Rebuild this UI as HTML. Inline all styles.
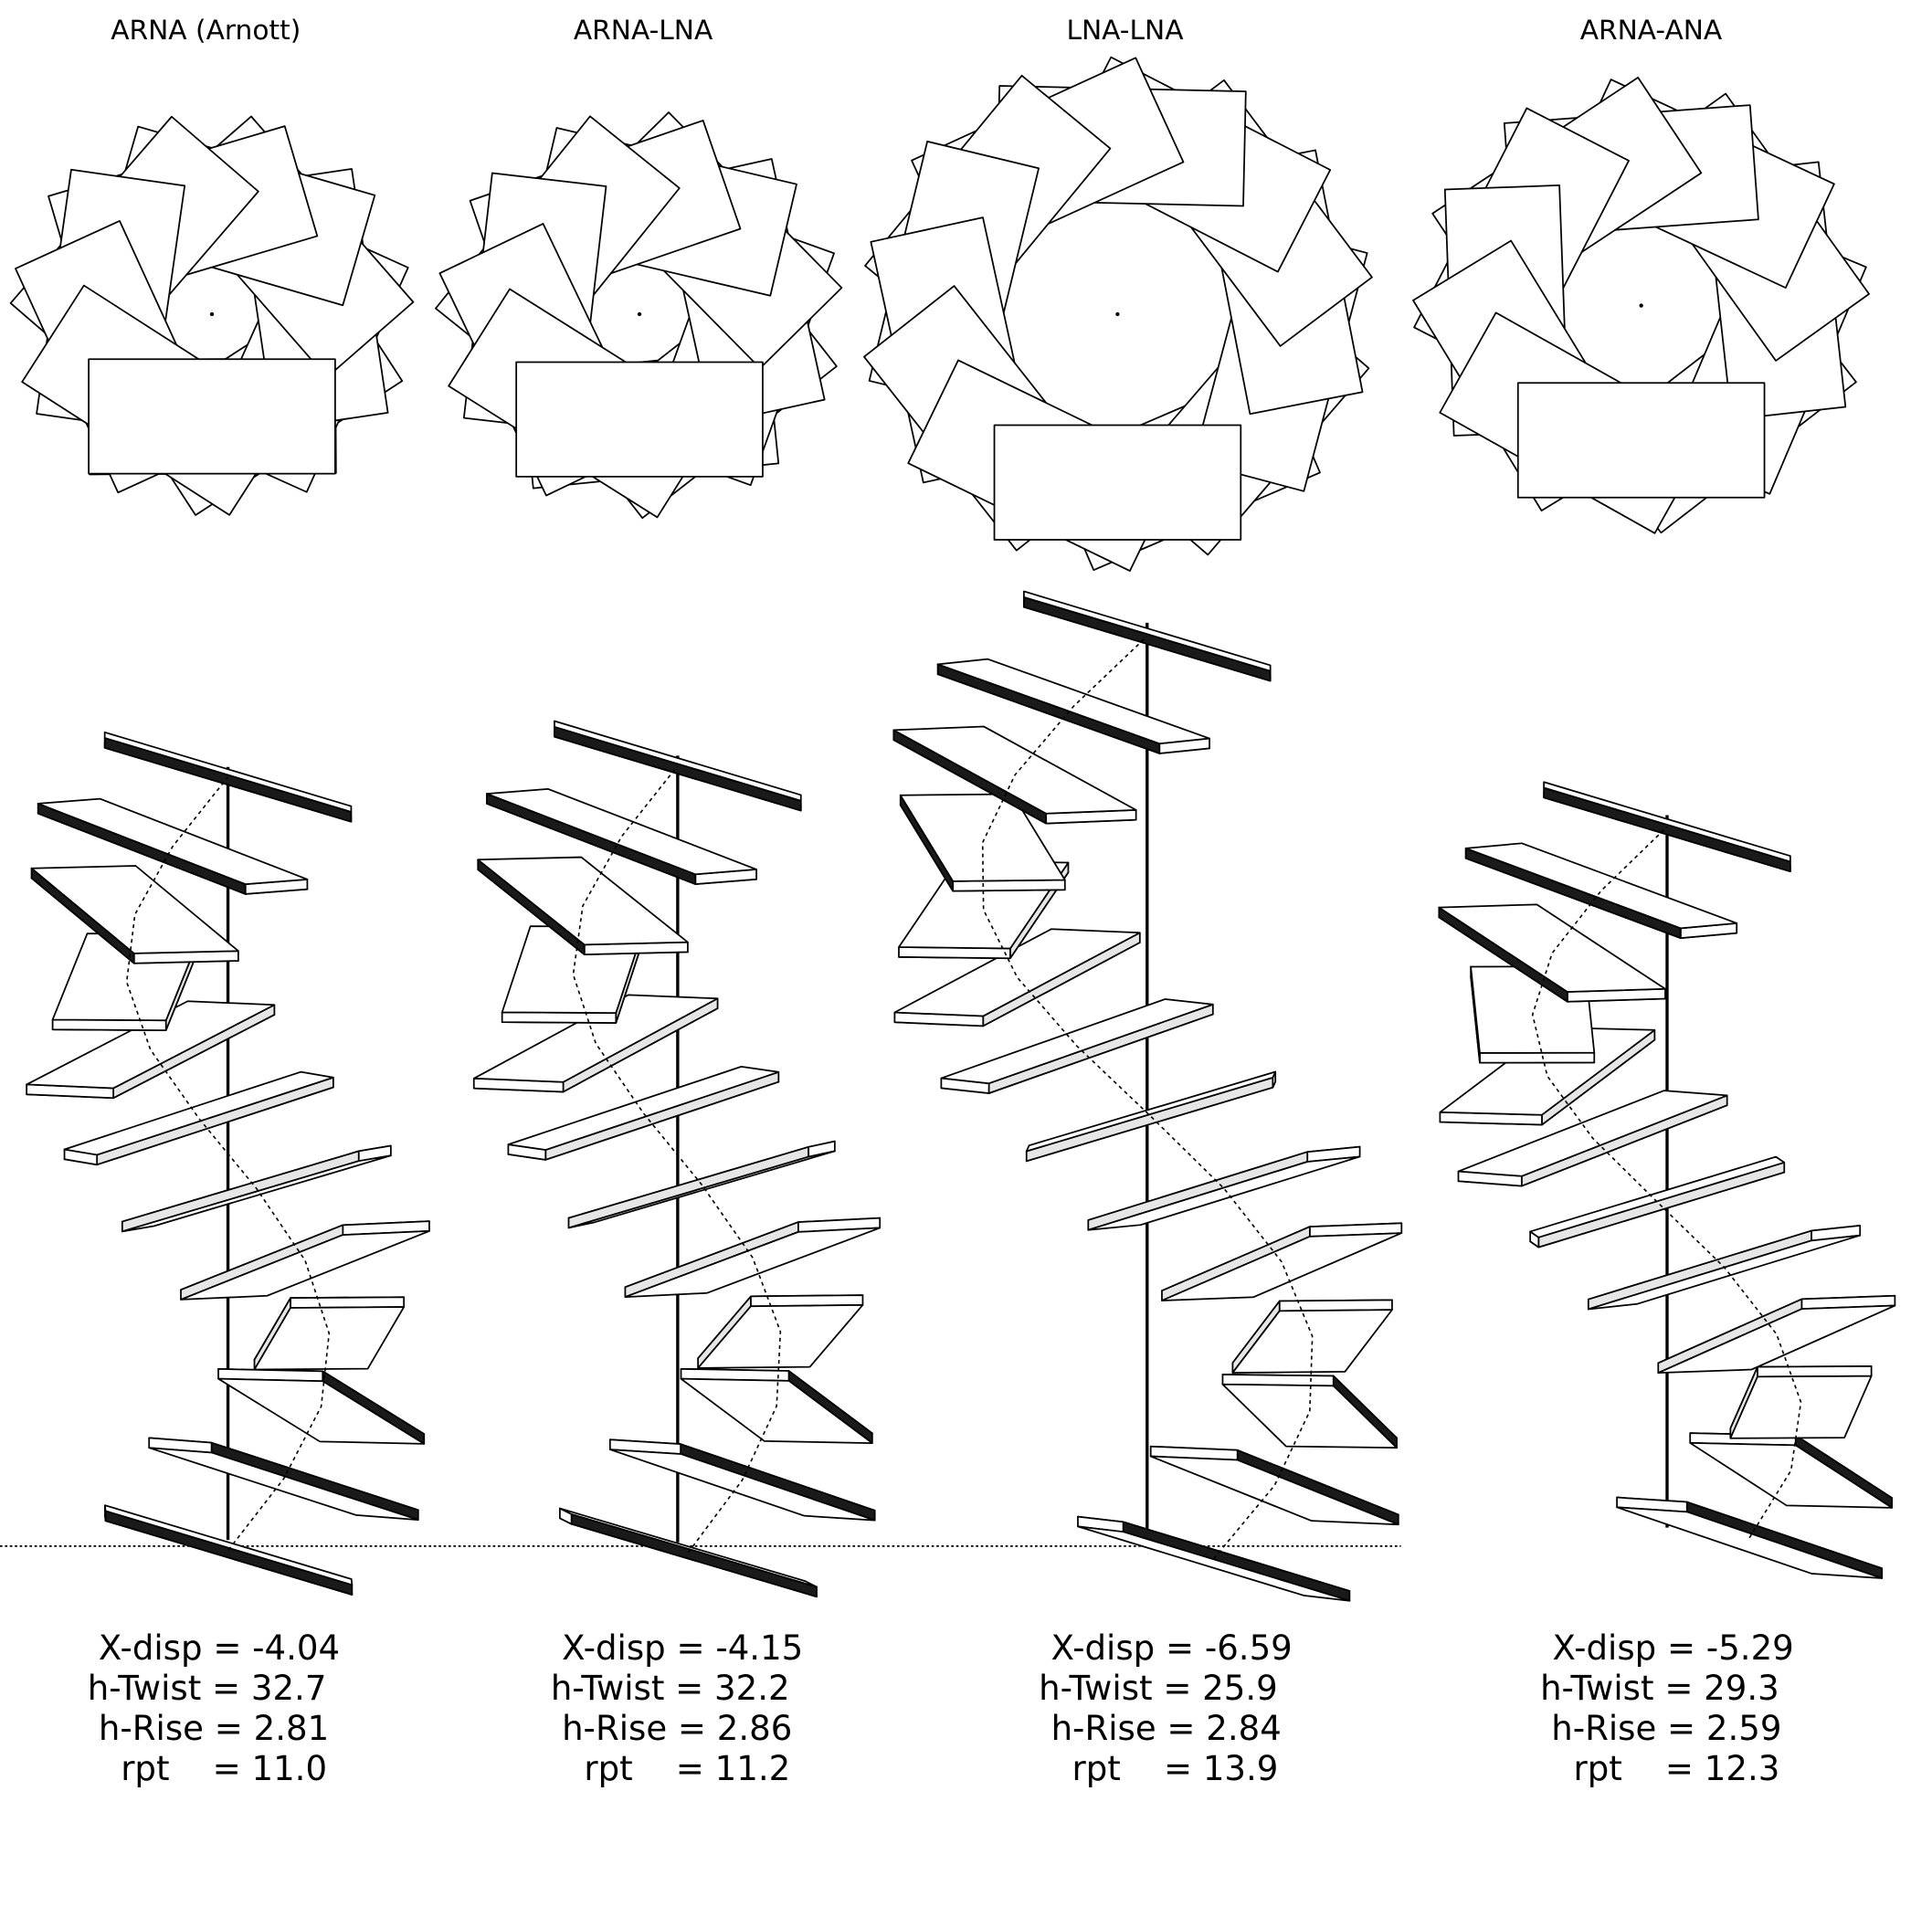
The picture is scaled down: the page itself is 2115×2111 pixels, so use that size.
<!DOCTYPE html>
<html><head><meta charset="utf-8">
<style>
html,body{margin:0;padding:0;background:#fff;}
svg{display:block;}
text{font-family:"DejaVu Sans","Liberation Sans",sans-serif;fill:#000;}
</style></head>
<body>
<svg id="fig" width="2115" height="2111" viewBox="0 0 1568 1565" xmlns="http://www.w3.org/2000/svg">
<line x1="0" y1="1255" x2="1137" y2="1255" stroke="#000" stroke-width="1.3" stroke-dasharray="2,2"/>
</svg>
<script>
const titles = ["ARNA (Arnott)", "ARNA-LNA", "LNA-LNA", "ARNA-ANA"];
const xdisp = [-4.04, -4.15, -6.59, -5.29];
const twist = [32.7, 32.2, 25.9, 29.3];
const rise = [2.81, 2.86, 2.84, 2.59];
const rpt = [11.0, 11.2, 13.9, 12.3];
const nSlabs = [12, 12, 14, 12];

// layout (not data)
const topCx = [172, 519, 907, 1332];
const topCy = [255, 255, 255, 248];
const sideAx = [185, 550, 931, 1353];
const sideBase = [1250, 1252, 1255, 1240];
const titleX = [167, 522, 913, 1340];
const txtX = [[80,71,80,98],[456,447,456,474],[853,843,853,870],[1260,1250,1259,1277]];
const labelFmt = ['X-disp = ', 'h-Twist = ', 'h-Rise = ', 'rpt    = '];

const svg = document.getElementById('fig');
const NS = 'http://www.w3.org/2000/svg';
const W = 200, D = 93, TH = 8, PXA = 20.3, SLOPE = 0.3, ELEV = 0.05;

function poly(pts, fill, name) {
  const p = document.createElementNS(NS, 'polygon');
  p.setAttribute('points', pts.map(q => q[0].toFixed(1)+','+q[1].toFixed(1)).join(' '));
  p.setAttribute('fill', fill);
  p.setAttribute('stroke', '#000');
  p.setAttribute('stroke-width', '1.3');
  p.setAttribute('stroke-linejoin', 'round');
  
  
  svg.appendChild(p);
  return p;
}
function area(P) {
  let a = 0;
  for (let i = 0; i < P.length; i++) { const j = (i + 1) % P.length; a += P[i][0]*P[j][1] - P[j][0]*P[i][1]; }
  return a / 2;
}

for (let k = 0; k < 4; k++) {
  const g = document.createElementNS(NS, 'text');
  g.setAttribute('x', titleX[k]); g.setAttribute('y', 32);
  g.setAttribute('text-anchor', 'middle'); g.setAttribute('font-size', '22');
  g.textContent = titles[k];
  
  
  svg.appendChild(g);

  const N = nSlabs[k], tw = twist[k] * Math.PI / 180;
  const d = 21 * (Math.abs(xdisp[k]) - 2.3);
  const cx = topCx[k], cy = topCy[k];
  const corners = [[-W/2, d], [W/2, d], [W/2, d + D], [-W/2, d + D]];
  const normals = [[0, -1], [1, 0], [0, 1], [-1, 0]];
  const sideFill = ['#e6e6e6', '#fff', '#1a1a1a', '#fff'];

  // top view
  for (let i = 0; i < N; i++) {
    const th = ((N - 1) - i) * tw;
    const c = Math.cos(th), s = Math.sin(th);
    poly(corners.map(([u, v]) => [cx + u*c - v*s, cy + u*s + v*c]), '#fff', 'top-view-base-pair');
  }
  const dot = document.createElementNS(NS, 'circle');
  dot.setAttribute('cx', cx); dot.setAttribute('cy', cy); dot.setAttribute('r', 1.6);
  
  
  svg.appendChild(dot);

  // side view
  const ax = sideAx[k], base = sideBase[k], rp = rise[k] * PXA;
  function P(u, v, w, i) {
    const th = ((N - 1) - i) * tw;
    const z = -SLOPE * u + w + i * rp;
    const X = u*Math.cos(th) - v*Math.sin(th), Y = u*Math.sin(th) + v*Math.cos(th);
    return [ax + X, base - z + ELEV * Y];
  }
  const axl = document.createElementNS(NS, 'line');
  axl.setAttribute('x1', ax); axl.setAttribute('x2', ax);
  axl.setAttribute('y1', base - (N - 1) * rp); axl.setAttribute('y2', base);
  axl.setAttribute('stroke', '#000'); axl.setAttribute('stroke-width', '2.5');
  
  
  svg.appendChild(axl);

  for (let i = 0; i < N; i++) {
    const th = ((N - 1) - i) * tw;
    const T = corners.map(([u, v]) => P(u, v, 0, i));
    const B = corners.map(([u, v]) => P(u, v, -TH, i));
    const topVisible = area(T) > 0;
    poly(topVisible ? B : T, '#fff', 'base-pair-hidden-face');
    for (let e = 0; e < 4; e++) {
      const f = (e + 1) % 4;
      const [nu, nv] = normals[e];
      const ny = nu*Math.sin(th) + nv*Math.cos(th);
      if (ny > 0) poly([T[e], T[f], B[f], B[e]], sideFill[e], 'base-pair-side');
    }
    poly(topVisible ? T : B, '#fff', 'side-view-base-pair');
  }

  const centers = [];
  for (let i = 0; i < N; i++) centers.push(P(0, d + D/2, -TH/2, i));
  const pl = document.createElementNS(NS, 'polyline');
  pl.setAttribute('points', centers.map(q => q[0].toFixed(1)+','+q[1].toFixed(1)).join(' '));
  pl.setAttribute('fill', 'none'); pl.setAttribute('stroke', '#000');
  pl.setAttribute('stroke-width', '1.2'); pl.setAttribute('stroke-dasharray', '3,3');
  
  
  svg.appendChild(pl);

  const vals = [xdisp[k].toFixed(2), twist[k].toFixed(1), rise[k].toFixed(2), rpt[k].toFixed(1)];
  for (let j = 0; j < 4; j++) {
    const t = document.createElementNS(NS, 'text');
    t.setAttribute('x', txtX[k][j]); t.setAttribute('y', 1347 + j * 32.7);
    t.setAttribute('font-size', '27.5');
    t.style.whiteSpace = 'pre';
    t.textContent = labelFmt[j] + vals[j];
    
    
    svg.appendChild(t);
  }
}
</script>
</body></html>
